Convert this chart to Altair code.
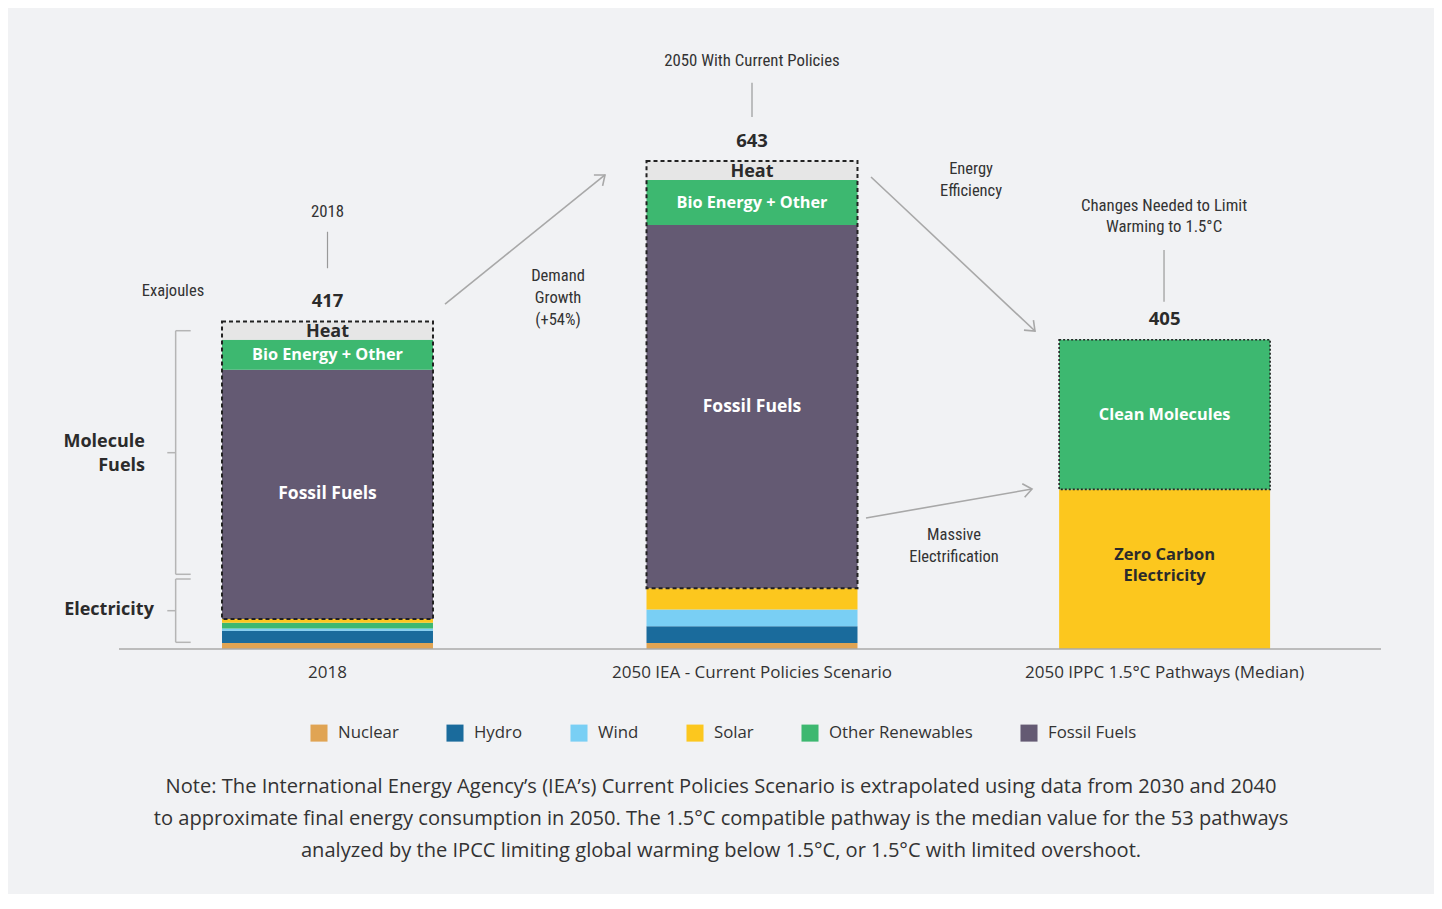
import math
import altair as alt
import pandas as pd

# ---------------- data ----------------
scenarios = ["2018", "2050 IEA - Current Policies Scenario", "2050 IPPC 1.5°C Pathways (Median)"]
scenario_pos = [0.0, 1.0, 1.972]
total_labels = ["417", "643", "405"]
headers = ["2018", "2050 With Current Policies", "Changes Needed to Limit\nWarming to 1.5°C"]

seg_2018 = ["Nuclear", "Hydro", "Wind", "Other Renewables", "Solar", "Fossil Fuels", "Bio Energy + Other", "Heat"]
val_2018 = [8, 16, 3, 7.5, 5, 328, 39.5, 24]
seg_2050 = ["Nuclear", "Hydro", "Wind", "Solar", "Fossil Fuels", "Bio Energy + Other", "Heat"]
val_2050 = [8, 22, 22, 28, 478, 59, 25]
seg_ipcc = ["Zero Carbon Electricity", "Clean Molecules"]
val_ipcc = [210, 197]
electricity_count = [5, 4, 1]

segment_labels = {
    "Fossil Fuels": "Fossil Fuels",
    "Bio Energy + Other": "Bio Energy + Other",
    "Heat": "Heat",
    "Clean Molecules": "Clean Molecules",
    "Zero Carbon Electricity": "Zero Carbon\nElectricity",
}

legend_items = ["Nuclear", "Hydro", "Wind", "Solar", "Other Renewables", "Fossil Fuels"]
color_domain = legend_items + ["Bio Energy + Other", "Heat", "Clean Molecules", "Zero Carbon Electricity"]
color_range = ["#E0A453", "#1A6B9C", "#79CFF4", "#FCC71E", "#3DB870", "#645A73",
               "#3DB870", "#E6E6E6", "#3DB870", "#FCC71E"]

note_lines = [
    "Note: The International Energy Agency\u2019s (IEA\u2019s) Current Policies Scenario is extrapolated using data from 2030 and 2040",
    "to approximate final energy consumption in 2050. The 1.5\u00b0C compatible pathway is the median value for the 53 pathways",
    "analyzed by the IPCC limiting global warming below 1.5\u00b0C, or 1.5\u00b0C with limited overshoot.",
]

# ---------------- scales / layout ----------------
W, H = 1426, 886
X_PX = 424.5            # pixels per scenario step
X0 = 319.5              # pixel of scenario 0
Y_PX = 0.76             # pixels per exajoule
Y0 = 641                # pixel of baseline
x_dom = [-X0 / X_PX, (W - X0) / X_PX]
y_dom = [-(H - Y0) / Y_PX, Y0 / Y_PX]
HALF = 0.2485

xs = alt.Scale(domain=x_dom, zero=False, nice=False)
ys = alt.Scale(domain=y_dom, zero=False, nice=False)


def X(f):
    return alt.X(f, type="quantitative", scale=xs, axis=None)


def Y(f):
    return alt.Y(f, type="quantitative", scale=ys, axis=None)


MAIN = "Open Sans"
COND = "Liberation Sans Narrow, Roboto Condensed, DejaVu Sans Condensed, sans-serif"
DARK = "#2b2b2b"

# ---------------- tables ----------------
rows = []
boxes = []
totals = []
for sc, pos, segs, vals, ne in zip(scenarios, scenario_pos, [seg_2018, seg_2050, seg_ipcc],
                                  [val_2018, val_2050, val_ipcc], electricity_count):
    cum = 0.0
    for s, v in zip(segs, vals):
        rows.append(dict(scenario=sc, pos=pos, segment=s, start=cum, end=cum + v,
                         mid=cum + v / 2, label=segment_labels.get(s, "")))
        cum += v
    totals.append(cum)
    boxes.append(dict(scenario=sc, pos=pos, start=sum(vals[:ne]), end=cum))

seg_df = pd.DataFrame(rows)
box_df = pd.DataFrame(boxes)
tot_df = pd.DataFrame(dict(pos=scenario_pos, total=totals, t=total_labels))
cat_df = pd.DataFrame(dict(pos=scenario_pos, t=scenarios))

bars = alt.Chart(seg_df).transform_calculate(
    x1=f"datum.pos - {HALF}", x2=f"datum.pos + {HALF}"
).mark_rect().encode(
    x=X("x1"), x2="x2", y=Y("start"), y2="end",
    color=alt.Color("segment:N", scale=alt.Scale(domain=color_domain, range=color_range),
                    legend=alt.Legend(orient="none", legendX=302, legendY=716, direction="horizontal",
                                      title=None, values=legend_items, symbolType="square",
                                      symbolSize=290, symbolStrokeWidth=0, symbolOpacity=1,
                                      labelFontSize=16.8, labelFont=MAIN, labelColor="#333",
                                      labelOffset=10, columnPadding=47, padding=0, labelLimit=300)),
)

box_dash = alt.Chart(box_df.iloc[:2]).transform_calculate(
    x1=f"datum.pos - {HALF}", x2=f"datum.pos + {HALF}"
).mark_rect(fillOpacity=0, stroke="#222", strokeWidth=2, strokeDash=[4, 3]).encode(
    x=X("x1"), x2="x2", y=Y("start"), y2="end")

box_dot = alt.Chart(box_df.iloc[2:]).transform_calculate(
    x1=f"datum.pos - {HALF}", x2=f"datum.pos + {HALF}"
).mark_rect(fillOpacity=0, stroke="#222", strokeWidth=1.6, strokeDash=[2, 2]).encode(
    x=X("x1"), x2="x2", y=Y("start"), y2="end")

lab_heat = alt.Chart(seg_df).transform_filter("datum.segment == 'Heat'").mark_text(
    font=MAIN, fontWeight="bold", fontSize=18, color=DARK, baseline="middle", dy=1
).encode(x=X("pos"), y=Y("mid"), text="label:N")

lab_bio = alt.Chart(seg_df).transform_filter(
    "indexof(['Bio Energy + Other','Clean Molecules'], datum.segment) >= 0"
).mark_text(font=MAIN, fontWeight="bold", fontSize=16.3, color="white", baseline="middle").encode(
    x=X("pos"), y=Y("mid"), text="label:N")

lab_fossil = alt.Chart(seg_df).transform_filter("datum.segment == 'Fossil Fuels'").mark_text(
    font=MAIN, fontWeight="bold", fontSize=17.5, color="white", baseline="middle").encode(
    x=X("pos"), y=Y("mid"), text="label:N")

lab_zero = alt.Chart(seg_df).transform_filter("datum.segment == 'Zero Carbon Electricity'").mark_text(
    font=MAIN, fontWeight="bold", fontSize=16.5, color=DARK, baseline="middle", lineBreak="\n",
    lineHeight=21, dy=-14
).encode(x=X("pos"), y=Y("mid"), text="label:N")

tot_text = alt.Chart(tot_df).transform_calculate(ty="datum.total + 27").mark_text(
    font=MAIN, fontWeight="bold", fontSize=18.5, color=DARK, baseline="middle"
).encode(x=X("pos"), y=Y("ty"), text="t:N")

cat_text = alt.Chart(cat_df).transform_calculate(v="-31.5").mark_text(
    font=MAIN, fontSize=17, color="#333", baseline="middle").encode(
    x=X("pos"), y=Y("v"), text="t:N")

# headers with tick lines (y = first text line)
head_df = pd.DataFrame(dict(x=[0.0, 1.0, 1.9706], y=[575, 774, 583], t=headers,
                            y1=[501, 700, 457], y2=[549, 745, 525]))
head_text = alt.Chart(head_df).mark_text(font=COND, fontSize=16.8, color="#333", baseline="middle",
                                         lineBreak="\n", lineHeight=21).encode(
    x=X("x"), y=Y("y"), text="t:N")
head_rule = alt.Chart(head_df).mark_rule(color="#999", strokeWidth=1.2).encode(
    x=X("x"), y=Y("y1"), y2="y2")

# arrows
arrows = pd.DataFrame(dict(x=[0.2768, 1.2804, 1.2686], y=[453.9, 621.1, 172.4],
                           x2=[0.6537, 1.6667, 1.6596], y2=[623.7, 418.4, 210.5]))
arrows["ang"] = [
    (math.degrees(math.atan2(-(b - a) * Y_PX, (d - c) * X_PX)) + 360) % 360
    for a, b, c, d in zip(arrows.y, arrows.y2, arrows.x, arrows.x2)
]
arrow_shaft = alt.Chart(arrows).mark_rule(color="#a8a8a8", strokeWidth=1.6).encode(
    x=X("x"), y=Y("y"), x2="x2", y2="y2")
arrow_head = alt.Chart(arrows).mark_point(
    shape="M -1 -0.8 L 0 0 L -1 0.8", filled=False, color="#a8a8a8", strokeWidth=1.6, size=300,
    opacity=1
).encode(x=X("x2"), y=Y("y2"), angle=alt.Angle("ang:Q", scale=None))

ann_df = pd.DataFrame(dict(
    x=[0.543, 1.516, 1.476, -0.364],
    y=[490.8, 631.6, 150.0, 471],
    t=["Demand\nGrowth\n(+54%)", "Energy\nEfficiency", "Massive\nElectrification", "Exajoules"]))
ann_text = alt.Chart(ann_df).mark_text(font=COND, fontSize=16.5, color="#333", baseline="middle",
                                       lineBreak="\n", lineHeight=22).encode(
    x=X("x"), y=Y("y"), text="t:N")

# side labels and brackets
side_df = pd.DataFrame(dict(x=[-0.43, -0.409], y=[273, 51.5], t=["Molecule\nFuels", "Electricity"]))
side_text = alt.Chart(side_df).mark_text(font=MAIN, fontWeight="bold", fontSize=18, color=DARK,
                                         baseline="middle", align="right", lineBreak="\n",
                                         lineHeight=24).encode(x=X("x"), y=Y("y"), text="t:N")

BX, BT, BM = -0.3577, -0.3223, -0.3774
br = pd.DataFrame(dict(
    x=[BX, BX, BX, BM, BX, BX, BX, BM],
    x2=[BX, BT, BT, BX, BX, BT, BT, BX],
    y=[418.8, 418.8, 98.3, 258.3, 92.1, 92.1, 8.8, 50.4],
    y2=[98.3, 418.8, 98.3, 258.3, 8.8, 92.1, 8.8, 50.4]))
brackets = alt.Chart(br).mark_rule(color="#b5b5b5", strokeWidth=1.5).encode(
    x=X("x"), x2="x2", y=Y("y"), y2="y2")

base_df = pd.DataFrame(dict(x=[-0.4912], x2=[2.4818], y=[0]))
baseline = alt.Chart(base_df).mark_rule(color="#aaaaaa", strokeWidth=1.5).encode(
    x=X("x"), x2="x2", y=Y("y"))

note_df = pd.DataFrame(dict(x=[0.927], y=[-181.6], t=["\n".join(note_lines)]))
note = alt.Chart(note_df).mark_text(font=MAIN, fontSize=20.1, color="#333", baseline="middle",
                                    lineBreak="\n", lineHeight=32).encode(
    x=X("x"), y=Y("y"), text="t:N")

chart = alt.layer(
    bars, box_dash, box_dot, lab_heat, lab_bio, lab_fossil, lab_zero, tot_text, cat_text,
    head_rule, head_text, arrow_shaft, arrow_head, ann_text, side_text, brackets, baseline, note
).properties(
    width=W, height=H, padding=0, autosize=alt.AutoSizeParams(type="none"),
    background="#f1f2f4"
).configure_view(stroke=None)

chart.save("out.html", embed_options={"renderer": "svg", "actions": False})
